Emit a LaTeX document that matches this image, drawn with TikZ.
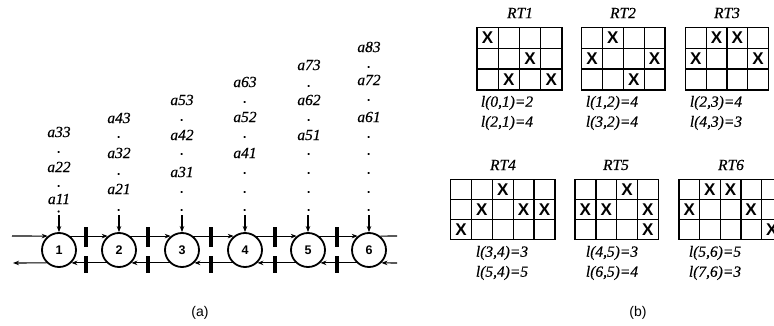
\documentclass[tikz,border=0pt]{standalone}
\usepackage{fontspec}
\setmainfont{Liberation Serif}
\newfontfamily\arialf{Liberation Sans}
\newfontfamily\lblfont{Liberation Serif}[ItalicFeatures={FakeBold=0.5}]
\usetikzlibrary{arrows.meta}
\newcommand{\rtgrid}[7]{% #1 id, #2 x0, #3 y0, #4 ncols, #5 cw, #6 ch, #7 marks col/row
  \begin{scope}[shift={(#2,#3)}, x=#5pt, y=-#6pt]
    \draw[cell] (0,0) rectangle (#4,3);
    \foreach \i in {1,...,#4} {\ifnum\i<#4 \draw[cell] (\i,0) -- (\i,3);\fi}
    \draw[cell] (0,1) -- (#4,1) (0,2) -- (#4,2);
    \foreach \c/\r in {#7} \node[xmark] (#1-\c-\r) at (\c+0.5,\r+0.5) {X};
  \end{scope}}
\begin{document}
\begin{tikzpicture}[x=1pt,y=-1pt,
  lbl/.style={font=\lblfont\fontsize{15.5}{17}\selectfont\itshape, inner sep=0pt},
  dotlbl/.style={font=\lblfont\fontsize{15.5}{17}\selectfont\itshape, inner sep=0pt},
  proc/.style={circle, draw, line width=1.8pt, minimum size=34pt, inner sep=0pt,
    font=\arialf\bfseries\fontsize{12.5}{12.5}\selectfont},
  link/.style={line width=1.1pt, -{Stealth[length=6pt,width=4.5pt]}},
  plainline/.style={line width=1.1pt},
  sepbar/.style={line width=4pt},
  cell/.style={line width=1.4pt},
  xmark/.style={font=\arialf\bfseries\fontsize{17}{17}\selectfont, inner sep=0pt},
  capt/.style={font=\arialf\fontsize{14}{14}\selectfont, inner sep=0pt}
]
\useasboundingbox (0,0) rectangle (774,326);
\clip (0,0) rectangle (774,326);

% ---------- panel (a) ----------
\foreach \n/\x in {1/59,2/119,3/182,4/245,5/308,6/369}
  \node[proc] (c\n) at (\x,250) {\n};

\coordinate (tin) at (12,236);
\coordinate (tout) at (397,236);
\coordinate (bin) at (397,263);
\coordinate (bout) at (13,263);

\draw[link] (tin) -- (c1.129);
\foreach \a/\b in {1/2,2/3,3/4,4/5,5/6} \draw[link] (c\a.51) -- (c\b.129);
\draw[plainline] (c6.51) -- (tout);

\draw[link] (bin) -- (c6.-46);
\foreach \a/\b in {1/2,2/3,3/4,4/5,5/6} \draw[link] (c\b.-134) -- (c\a.-46);
\draw[link] (c1.-134) -- (bout);

\foreach \x in {86,148,211,275,337} {
  \draw[sepbar] (\x,227) -- (\x,247);
  \draw[sepbar] (\x,256) -- (\x,273);
}

\foreach \n/\x in {1/59,2/119,3/182,4/245,5/308,6/369} {
  \coordinate (v\n) at (\x,215);
  \draw[link] (v\n) -- (c\n.north);
}

% column 1
\node[lbl] (a33) at (59,132) {a33};
\node[dotlbl] (d1a) at (59,152) {.};
\node[lbl] (a22) at (59,167) {a22};
\node[dotlbl] (d1b) at (59,186) {.};
\node[lbl] (a11) at (59,199) {a11};
\node[dotlbl] (d1c) at (59,211.5) {.};
% column 2
\node[lbl] (a43) at (119,118) {a43};
\node[dotlbl] (d2a) at (119,137) {.};
\node[lbl] (a32) at (119,153) {a32};
\node[dotlbl] (d2b) at (119,174) {.};
\node[lbl] (a21) at (119,189) {a21};
\node[dotlbl] (d2c) at (119,210) {.};
% column 3
\node[lbl] (a53) at (182,100) {a53};
\node[dotlbl] (d3a) at (182,120) {.};
\node[lbl] (a42) at (182,135) {a42};
\node[dotlbl] (d3b) at (182,154) {.};
\node[lbl] (a31) at (182,172) {a31};
\node[dotlbl] (d3c) at (182,192) {.};
\node[dotlbl] (d3d) at (182,210) {.};
% column 4
\node[lbl] (a63) at (245,82) {a63};
\node[dotlbl] (d4a) at (245,102) {.};
\node[lbl] (a52) at (245,117) {a52};
\node[dotlbl] (d4b) at (245,137) {.};
\node[lbl] (a41) at (245,153) {a41};
\node[dotlbl] (d4c) at (245,173) {.};
\node[dotlbl] (d4d) at (245,192) {.};
\node[dotlbl] (d4e) at (245,210) {.};
% column 5
\node[lbl] (a73) at (309,65) {a73};
\node[dotlbl] (d5a) at (309,86) {.};
\node[lbl] (a62) at (309,100) {a62};
\node[dotlbl] (d5b) at (309,120) {.};
\node[lbl] (a51) at (309,135) {a51};
\node[dotlbl] (d5c) at (309,154) {.};
\node[dotlbl] (d5d) at (309,173) {.};
\node[dotlbl] (d5e) at (309,192) {.};
\node[dotlbl] (d5f) at (309,210) {.};
% column 6
\node[lbl] (a83) at (369,47) {a83};
\node[dotlbl] (d6a) at (369,67) {.};
\node[lbl] (a72) at (369,80) {a72};
\node[dotlbl] (d6b) at (369,100) {.};
\node[lbl] (a61) at (369,117) {a61};
\node[dotlbl] (d6c) at (369,137) {.};
\node[dotlbl] (d6d) at (369,154) {.};
\node[dotlbl] (d6e) at (369,173) {.};
\node[dotlbl] (d6f) at (369,192) {.};
\node[dotlbl] (d6g) at (369,210) {.};

\node[capt] (capa) at (200,313) {(a)};

% ---------- panel (b) ----------
\rtgrid{g1}{477}{27.5}{4}{21.2}{20.8}{0/0,2/1,1/2,3/2}
\rtgrid{g2}{581.5}{27.5}{4}{20.9}{20.8}{1/0,0/1,3/1,2/2}
\rtgrid{g3}{685.5}{27.5}{4}{20.7}{20.8}{1/0,2/0,0/1,3/1}
\rtgrid{g4}{450.5}{179.5}{5}{20.9}{20}{2/0,1/1,3/1,4/1,0/2}
\rtgrid{g5}{575}{179.5}{4}{20.8}{20}{2/0,0/1,1/1,3/1,3/2}
\rtgrid{g6}{679}{179.5}{5}{20.6}{20}{1/0,2/0,0/1,3/1,4/2}

\node[lbl] (t1) at (520,13) {RT1};
\node[lbl] (t2) at (623,13) {RT2};
\node[lbl] (t3) at (727,13) {RT3};
\node[lbl] (t4) at (503,165) {RT4};
\node[lbl] (t5) at (616,165) {RT5};
\node[lbl] (t6) at (731,165) {RT6};

\node[lbl] (l1a) at (507,103) {l(0,1)=2};
\node[lbl] (l1b) at (507,123) {l(2,1)=4};
\node[lbl] (l2a) at (612,103) {l(1,2)=4};
\node[lbl] (l2b) at (612,123) {l(3,2)=4};
\node[lbl] (l3a) at (716,103) {l(2,3)=4};
\node[lbl] (l3b) at (716,123) {l(4,3)=3};
\node[lbl] (l4a) at (502,253) {l(3,4)=3};
\node[lbl] (l4b) at (502,273) {l(5,4)=5};
\node[lbl] (l5a) at (612,253) {l(4,5)=3};
\node[lbl] (l5b) at (612,273) {l(6,5)=4};
\node[lbl] (l6a) at (715,253) {l(5,6)=5};
\node[lbl] (l6b) at (715,273) {l(7,6)=3};

\node[capt] (capb) at (638,313) {(b)};
\end{tikzpicture}
\end{document}
